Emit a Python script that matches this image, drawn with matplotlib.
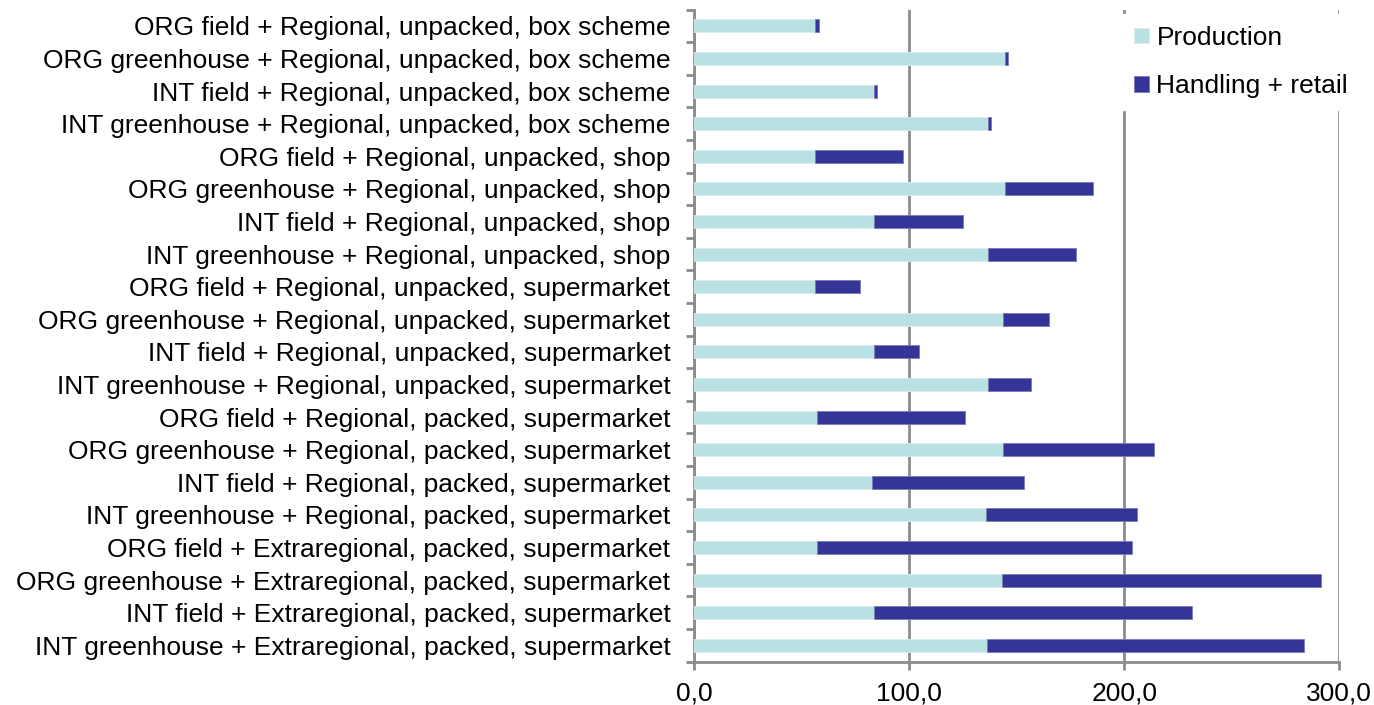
import matplotlib
matplotlib.use("Agg")
import matplotlib.pyplot as plt
import numpy as np

categories = [
    "ORG field + Regional, unpacked, box scheme",
    "ORG greenhouse + Regional, unpacked, box scheme",
    "INT field + Regional, unpacked, box scheme",
    "INT greenhouse + Regional, unpacked, box scheme",
    "ORG field + Regional, unpacked, shop",
    "ORG greenhouse + Regional, unpacked, shop",
    "INT field + Regional, unpacked, shop",
    "INT greenhouse + Regional, unpacked, shop",
    "ORG field + Regional, unpacked, supermarket",
    "ORG greenhouse + Regional, unpacked, supermarket",
    "INT field + Regional, unpacked, supermarket",
    "INT greenhouse + Regional, unpacked, supermarket",
    "ORG field + Regional, packed, supermarket",
    "ORG greenhouse + Regional, packed, supermarket",
    "INT field + Regional, packed, supermarket",
    "INT greenhouse + Regional, packed, supermarket",
    "ORG field + Extraregional, packed, supermarket",
    "ORG greenhouse + Extraregional, packed, supermarket",
    "INT field + Extraregional, packed, supermarket",
    "INT greenhouse + Extraregional, packed, supermarket",
]
production = [56.4, 144.5, 83.8, 136.8, 56.4, 144.5, 83.8, 136.8, 56.5, 143.6,
              83.6, 136.5, 57.0, 143.6, 83.0, 136.0, 57.3, 143.1, 83.5, 136.3]
totals = [58.2, 145.9, 85.3, 138.0, 97.4, 185.3, 124.9, 177.5, 77.1, 165.0,
          104.4, 156.9, 126.2, 213.9, 153.5, 206.0, 203.8, 291.5, 231.3, 283.6]
handling = [t - p for t, p in zip(totals, production)]
xticks = [0, 100, 200, 300]
xtick_labels = ["0,0", "100,0", "200,0", "300,0"]

plt.rcParams['font.family'] = ['Liberation Sans', 'DejaVu Sans']

fig = plt.figure(figsize=(13.74, 7.05), dpi=100)
ax = fig.add_axes([0.505, 0.0614, 0.4698, 0.9251])

y = np.arange(len(categories))
c_prod = '#B9E0E3'
c_hand = '#353598'
ax.barh(y, production, height=0.4, color=c_prod, edgecolor='#d8eef0', linewidth=0.6,
        label='Production', zorder=3)
ax.barh(y, handling, left=production, height=0.4, color=c_hand, edgecolor='#7a7ab8',
        linewidth=0.6, label='Handling + retail', zorder=3)

ax.set_ylim(len(categories) - 0.5, -0.5)
ax.set_xlim(0, 300)
ax.set_yticks(y)
ax.set_yticklabels(categories, fontsize=19)
ax.set_yticks(np.arange(-0.5, len(categories) + 0.5, 1), minor=True)
ax.tick_params(axis='y', which='major', length=0, pad=17)
ax.tick_params(axis='y', which='minor', length=6, width=2, color='#8c8c8c', direction='out')
ax.set_xticks(xticks)
ax.set_xticklabels(xtick_labels, fontsize=19)
ax.tick_params(axis='x', which='major', length=6, width=2, color='#8c8c8c', pad=8)

for s in ['top', 'right']:
    ax.spines[s].set_visible(False)
for s in ['left', 'bottom']:
    ax.spines[s].set_color('#8c8c8c')
    ax.spines[s].set_linewidth(2)

ax.grid(axis='x', color='#8c8c8c', linewidth=2, zorder=0)
ax.set_axisbelow(True)

leg = ax.legend(loc='upper right', bbox_to_anchor=(1360 / 1374, 1 - 14 / 705),
                bbox_transform=fig.transFigure, frameon=True, fontsize=19,
                handlelength=0.55, handleheight=0.55, handletextpad=0.3, labelspacing=0.91,
                borderpad=0.45, borderaxespad=0)
leg.get_frame().set_edgecolor('white')
leg.get_frame().set_facecolor('white')
leg.get_frame().set_alpha(1)
leg.get_frame().set_boxstyle('square', pad=0)
leg.set_zorder(5)

fig.savefig("out.png", dpi=100)
